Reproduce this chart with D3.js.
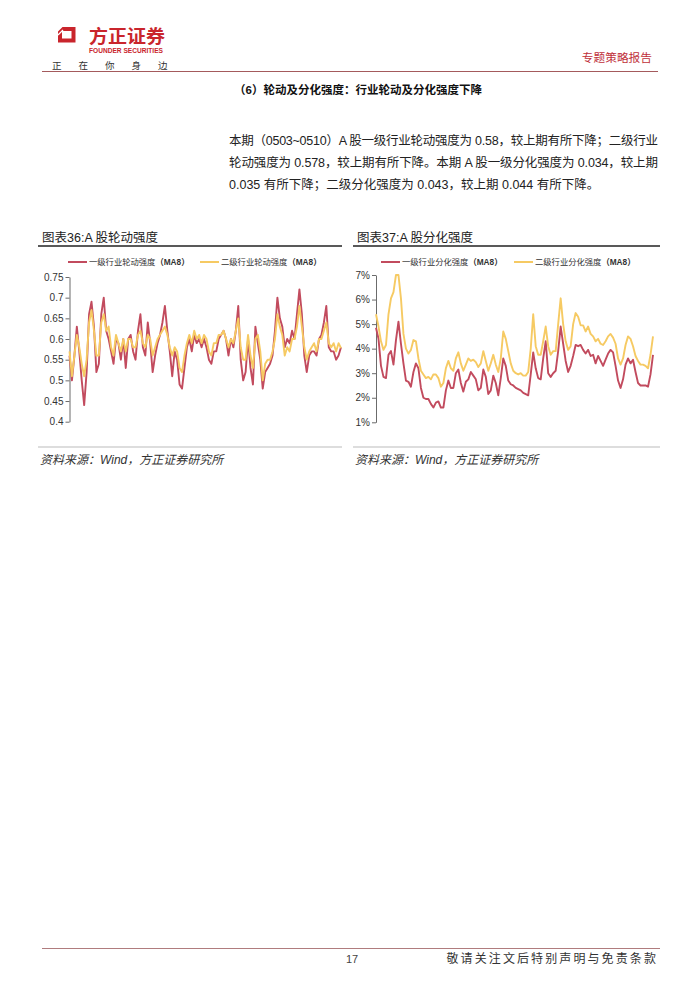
<!DOCTYPE html>
<html><head><meta charset="utf-8">
<script src="https://cdn.jsdelivr.net/npm/d3@7"></script>
<style>body{margin:0;background:#fff}svg{display:block}</style>
</head><body>
<svg id="page" width="700" height="990"></svg>
<script>
// ---- data (monthly, starting Jan 2015) ----
const startYear = 2015;
const rotationLevel1 = [
0.56,0.50,0.56,0.63,0.57,0.50,0.44,0.52,0.66,0.69,0.63,0.52,
0.54,0.66,0.70,0.62,0.60,0.57,0.54,0.60,0.59,0.55,0.60,0.53,
0.60,0.61,0.57,0.55,0.62,0.66,0.58,0.56,0.64,0.59,0.52,0.56,
0.59,0.61,0.64,0.68,0.62,0.57,0.51,0.57,0.55,0.49,0.48,0.53,
0.58,0.60,0.57,0.61,0.59,0.60,0.58,0.60,0.58,0.55,0.54,0.57,
0.57,0.60,0.61,0.62,0.60,0.56,0.60,0.58,0.62,0.68,0.55,0.50,
0.52,0.60,0.53,0.49,0.63,0.59,0.55,0.48,0.52,0.53,0.54,0.56,
0.62,0.70,0.65,0.63,0.58,0.60,0.59,0.62,0.60,0.66,0.72,0.66,
0.56,0.52,0.56,0.57,0.57,0.56,0.60,0.61,0.64,0.68,0.58,0.57,
0.57,0.55,0.56,0.58];
const rotationLevel2 = [
0.57,0.51,0.56,0.61,0.58,0.54,0.51,0.55,0.64,0.67,0.62,0.56,
0.56,0.64,0.66,0.62,0.63,0.58,0.56,0.61,0.59,0.57,0.60,0.57,
0.60,0.60,0.58,0.58,0.61,0.62,0.59,0.58,0.61,0.60,0.56,0.58,
0.60,0.61,0.62,0.63,0.61,0.58,0.56,0.58,0.57,0.53,0.52,0.56,
0.59,0.61,0.59,0.62,0.60,0.61,0.59,0.61,0.60,0.57,0.56,0.59,
0.59,0.61,0.61,0.62,0.60,0.58,0.60,0.59,0.62,0.65,0.58,0.55,
0.55,0.61,0.56,0.53,0.60,0.61,0.57,0.50,0.54,0.55,0.55,0.57,
0.60,0.66,0.63,0.61,0.56,0.58,0.57,0.60,0.60,0.63,0.68,0.63,
0.58,0.55,0.57,0.58,0.59,0.57,0.60,0.60,0.62,0.64,0.59,0.58,
0.59,0.57,0.59,0.578];
const dispersionLevel1 = [
4.85,4.4,3.3,2.85,2.8,3.75,3.9,3.35,4.35,5.1,4.2,3.4,
2.7,2.65,2.45,3.05,3.4,3.2,2.4,2.0,1.95,1.95,1.75,1.6,
1.8,1.85,1.6,1.6,2.3,2.7,2.4,2.4,3.0,3.15,2.6,2.25,
2.65,2.75,3.05,2.9,2.75,2.3,2.4,3.15,2.85,2.15,2.3,2.9,
2.6,2.1,2.8,3.6,3.3,2.7,2.55,2.5,2.4,2.35,2.3,2.2,
2.15,2.1,2.95,3.85,3.2,2.8,2.75,3.6,4.3,3.0,2.85,3.0,
3.1,3.9,4.9,4.2,3.5,3.05,3.3,3.7,4.15,4.1,4.15,3.95,
3.8,3.95,3.7,3.75,3.4,3.7,3.5,3.3,3.55,3.8,3.95,3.85,
3.3,2.7,2.4,2.75,3.35,3.6,3.4,3.55,3.05,2.6,2.5,2.5,
2.5,2.45,2.95,3.75];
const dispersionLevel2 = [
5.4,4.9,4.3,3.95,4.15,5.4,6.05,6.3,7.0,7.0,6.05,4.6,
4.0,3.8,3.95,4.35,4.3,3.6,3.1,2.95,2.8,2.85,2.75,2.95,
2.95,2.8,2.45,2.6,3.2,3.5,3.2,3.1,3.6,3.85,3.4,3.1,
3.35,3.6,3.5,3.55,3.45,3.25,3.4,3.9,3.5,3.1,3.4,3.75,
3.35,3.05,3.6,4.7,4.4,3.9,3.4,3.1,3.0,2.95,3.0,2.9,
2.9,3.05,4.0,5.4,4.1,3.75,3.75,4.3,4.9,4.1,3.75,3.9,
3.9,5.0,6.05,5.0,4.3,3.95,4.1,5.0,5.45,5.3,4.95,4.95,
4.7,4.9,4.6,4.5,4.3,4.4,4.2,4.15,4.3,4.5,4.6,4.45,
4.2,3.6,3.35,3.6,4.15,4.5,4.4,4.1,3.7,3.5,3.35,3.35,
3.3,3.2,3.75,4.5];
const yearTicks = [2015,2016,2017,2018,2019,2020,2021,2022,2023,2024];
const yearLabels = ["2015","2016","2017","2018","2019","2020","2021","2022","2023","2024"];
const rotationTicks = [0.4,0.45,0.5,0.55,0.6,0.65,0.7,0.75];
const rotationTickLabels = ["0.4","0.45","0.5","0.55","0.6","0.65","0.7","0.75"];
const dispersionTicks = [1,2,3,4,5,6,7];
const dispersionTickLabels = ["1%","2%","3%","4%","5%","6%","7%"];
const rotationLegend = ["一级行业轮动强度", "二级行业轮动强度"];
const dispersionLegend = ["一级行业分化强度", "二级行业分化强度"];
const seriesColors = ["#C24B5E", "#F6CA63"];

// ---- page ----
const svg = d3.select("#page");
const CJK = "'Liberation Sans','Noto Sans CJK SC',sans-serif";
const RED = "#C9252C";

// header logo
svg.append("path")
  .attr("d","M58,31.5 L62.5,27 L75.5,27 L75.5,42.5 L58,42.5 Z M62,31 L71.5,31 L71.5,38.5 L62,38.5 Z")
  .attr("fill-rule","evenodd").attr("fill",RED);
svg.append("line").attr("x1",58).attr("y1",35).attr("x2",63).attr("y2",30).attr("stroke","#fff").attr("stroke-width",1.2);
svg.append("text").attr("x",89).attr("y",42.5).attr("font-family",CJK).attr("font-size",18).attr("font-weight",700)
  .attr("fill",RED).attr("textLength",76).attr("lengthAdjust","spacingAndGlyphs").text("方正证券");
svg.append("text").attr("x",89).attr("y",52.8).attr("font-family",CJK).attr("font-size",6.8).attr("font-weight",700)
  .attr("fill",RED).attr("textLength",74).attr("lengthAdjust","spacingAndGlyphs").text("FOUNDER SECURITIES");
svg.append("text").attr("x",52).attr("y",68.5).attr("font-family",CJK).attr("font-size",9.5)
  .attr("fill","#333").attr("letter-spacing",17).text("正在你身边");
svg.append("text").attr("x",652).attr("y",62).attr("text-anchor","end").attr("font-family",CJK).attr("font-size",11.7)
  .attr("fill","#C0303A").text("专题策略报告");
svg.append("line").attr("x1",42).attr("x2",658).attr("y1",71.5).attr("y2",71.5).attr("stroke","#A45A5C").attr("stroke-width",1);

// heading & paragraph
svg.append("text").attr("x",234).attr("y",94).attr("font-family",CJK).attr("font-size",11.5).attr("font-weight",700)
  .attr("fill","#111").text("（6）轮动及分化强度：行业轮动及分化强度下降");
const para = [
  {t:"本期（0503~0510）A 股一级行业轮动强度为 0.58，较上期有所下降；二级行业", full:true},
  {t:"轮动强度为 0.578，较上期有所下降。本期 A 股一级分化强度为 0.034，较上期", full:true},
  {t:"0.035 有所下降；二级分化强度为 0.043，较上期 0.044 有所下降。", full:false}
];
para.forEach((p,i)=>{
  const tx = svg.append("text").attr("x",229).attr("y",145+i*22).attr("font-family",CJK).attr("font-size",12.5)
    .attr("fill","#222").text(p.t);
  if(p.full) tx.attr("textLength",429).attr("lengthAdjust","spacing");
});

// footer
svg.append("line").attr("x1",42).attr("x2",660).attr("y1",948.5).attr("y2",948.5).attr("stroke","#B07C7E").attr("stroke-width",1);
svg.append("text").attr("x",352).attr("y",963).attr("text-anchor","middle").attr("font-family",CJK).attr("font-size",11).attr("fill","#444").text("17");
svg.append("text").attr("x",658).attr("y",963).attr("text-anchor","end").attr("font-family",CJK).attr("font-size",12)
  .attr("fill","#333").attr("letter-spacing",2.1).text("敬请关注文后特别声明与免责条款");

// ---- charts ----
function drawChart(cfg){
  const g = svg.append("g");
  // title
  g.append("text").attr("x",cfg.left+4).attr("y",242).attr("font-family",CJK).attr("font-size",12.5).attr("fill","#222").text(cfg.title);
  g.append("line").attr("x1",cfg.left).attr("x2",cfg.right).attr("y1",246).attr("y2",246).attr("stroke","#222").attr("stroke-width",1.3);
  g.append("line").attr("x1",cfg.left).attr("x2",cfg.right).attr("y1",447).attr("y2",447).attr("stroke","#aaa").attr("stroke-width",0.8);
  g.append("text").attr("x",cfg.left+2).attr("y",464).attr("font-family",CJK).attr("font-size",12).attr("font-style","italic")
    .attr("fill","#333").text("资料来源：Wind，方正证券研究所");

  const x = d3.scaleLinear().domain([startYear, 2024.25]).range(cfg.xRange);
  const y = d3.scaleLinear().domain(cfg.yDomain).range(cfg.yRange);

  const clipId = "clip"+cfg.id;
  g.append("clipPath").attr("id",clipId).append("rect")
    .attr("x",cfg.xRange[0]-40).attr("y",cfg.yRange[1]-4).attr("width",cfg.clipRight-(cfg.xRange[0]-40)).attr("height",cfg.yRange[0]-cfg.yRange[1]+30);

  const yAxis = d3.axisLeft(y).tickValues(cfg.ticks).tickFormat((d,i)=>cfg.tickLabels[i]).tickSize(4).tickSizeOuter(0).tickPadding(2);
  const xAxis = d3.axisBottom(x).tickValues(yearTicks).tickFormat((d,i)=>yearLabels[i]).tickSize(4).tickSizeOuter(0).tickPadding(2.5);
  const ya = g.append("g").attr("transform",`translate(${cfg.xRange[0]},0)`).call(yAxis);
  const xa = g.append("g").attr("transform",`translate(0,${cfg.yRange[0]})`).attr("clip-path",`url(#${clipId})`).call(xAxis);
  [ya,xa].forEach(a=>{
    a.selectAll("path,line").attr("stroke","#5a5a5a").attr("stroke-width",0.9);
    a.selectAll("text").attr("font-family","'Liberation Sans',Arial,sans-serif").attr("font-size",10).attr("fill","#333");
  });

  const line = d3.line().x((d,i)=>x(startYear+i/12)).y(d=>y(d)).curve(d3.curveLinear);
  cfg.series.forEach((s,k)=>{
    g.append("path").attr("d",line(s)).attr("fill","none").attr("stroke",seriesColors[k])
      .attr("stroke-width",1.9).attr("stroke-linejoin","round");
  });

  // legend
  cfg.legend.forEach((lab,k)=>{
    const lx = cfg.legendX[k];
    g.append("line").attr("x1",lx).attr("x2",lx+19).attr("y1",262).attr("y2",262).attr("stroke",seriesColors[k]).attr("stroke-width",2);
    const t = g.append("text").attr("x",lx+21).attr("y",265).attr("font-family",CJK).attr("font-size",8.3).attr("fill","#333");
    t.append("tspan").text(lab);
    t.append("tspan").attr("font-weight",700).text("（MA8）");
  });
}

drawChart({
  id:"L", left:38, right:342, title:"图表36:A 股轮动强度",
  xRange:[69.5,341], yRange:[421.7,277], yDomain:[0.4,0.75], clipRight:700,
  ticks:rotationTicks, tickLabels:rotationTickLabels,
  series:[rotationLevel1, rotationLevel2], legend:rotationLegend, legendX:[68,200]
});
drawChart({
  id:"R", left:353, right:660, title:"图表37:A 股分化强度",
  xRange:[376,653], yRange:[422.3,275], yDomain:[1,7], clipRight:656,
  ticks:dispersionTicks, tickLabels:dispersionTickLabels,
  series:[dispersionLevel1, dispersionLevel2], legend:dispersionLegend, legendX:[381,514]
});
</script>
</body></html>
